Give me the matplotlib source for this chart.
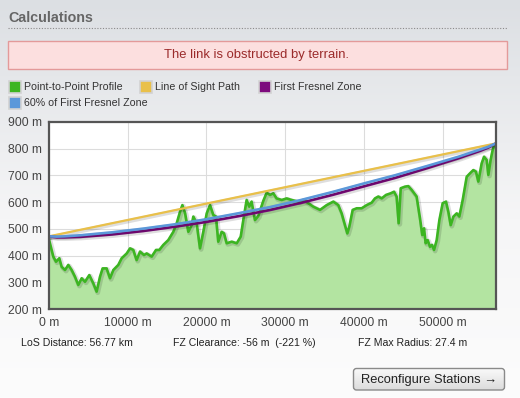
import numpy as np
import matplotlib
matplotlib.use("Agg")
import matplotlib.pyplot as plt
import matplotlib.patheffects as pe
from matplotlib.patches import Rectangle, FancyBboxPatch
from matplotlib.lines import Line2D
from matplotlib.ticker import FuncFormatter, MultipleLocator

# ---------------- data ----------------
profile_x = [0, 550, 890, 1310, 1610, 2030, 2450, 2880, 3300, 3720, 4150, 4570, 5120, 5630,
             6050, 6480, 6810, 7320, 7750, 8170, 8800, 9230, 9870, 10290, 10710, 11130, 11560,
             12060, 12400, 13040, 13590, 14010, 14520, 15150, 15790, 16220, 16640, 16940, 17290,
             17700, 18120, 18330, 18760, 19180, 19600, 20030, 20450, 20870, 21210, 21500, 21930,
             22230, 22570, 23200, 23840, 24350, 24680, 25100, 25430, 25730, 26160, 26580, 26900,
             27220, 27640, 28070, 28490, 28910, 29550, 30180, 30820, 31660, 32300, 32930, 33570,
             34420, 35270, 36110, 36740, 37170, 37600, 37890, 38140, 38570, 39080, 39710, 40350,
             40980, 41400, 41820, 42250, 42800, 43390, 43820, 44150, 44410, 44670, 45210, 45630,
             46060, 46690, 47120, 47410, 47630, 47840, 48090, 48390, 48640, 48900, 49240, 49580,
             50000, 50420, 50720, 51020, 51360, 51780, 52110, 52540, 53050, 53470, 53890, 54230,
             54530, 54950, 55250, 55590, 55800, 56090, 56300, 56520, 56770]
profile_elev = [460, 396, 377, 390, 358, 346, 365, 346, 321, 290, 315, 302, 327, 296,
                265, 321, 352, 352, 315, 346, 365, 390, 408, 427, 421, 383, 415,
                402, 408, 396, 421, 421, 440, 458, 489, 521, 564, 589, 558,
                489, 514, 546, 521, 427, 489, 558, 589, 552, 546, 452, 489,
                483, 446, 452, 446, 471, 533, 608, 583, 602, 533, 548, 577,
                605, 635, 627, 633, 614, 608, 614, 608, 602, 608, 596, 583,
                571, 589, 602, 589, 558, 514, 483, 508, 571, 577, 577, 589,
                598, 614, 621, 614, 627, 633, 639, 621, 521, 652, 658, 660,
                646, 621, 539, 477, 502, 446, 458, 433, 440, 421, 458, 533,
                596, 602, 564, 514, 546, 558, 546, 608, 695, 708, 720, 714,
                677, 745, 770, 758, 702, 758, 789, 814, 820]

los_x = [0, 56770]
los_elev = [472, 820]

fz_x = [0, 1000, 2000, 4000, 8000, 12000, 16000, 20000, 24000, 28000, 32000, 36000,
        40000, 44000, 48000, 52000, 54770, 55770, 56770]
fz_first = [472, 468, 468, 470, 479, 492, 508, 526, 547, 570, 597, 627,
            659, 691, 727, 764, 792, 804, 820]
fz_sixty = [472, 471, 472, 476, 487, 501, 517, 536, 558, 581, 608, 638,
            670, 701, 735, 770, 797, 807, 820]

legend_labels = ["Point-to-Point Profile", "Line of Sight Path", "First Fresnel Zone",
                 "60% of First Fresnel Zone"]
stats = ["LoS Distance: 56.77 km", "FZ Clearance: -56 m  (-221 %)", "FZ Max Radius: 27.4 m"]

# ---------------- styles ----------------
GREEN = "#3cb521"
GREEN_FILL = "#b3e4a1"
YELLOW = "#e9c04a"
PURPLE = "#7d0a7d"
BLUE = "#5b98da"
FONT = ["Liberation Sans", "DejaVu Sans"]
plt.rcParams["font.family"] = FONT

W, H = 520, 398
fig = plt.figure(figsize=(W / 100, H / 100), dpi=100)

# decoration layer in pixel coordinates
deco = fig.add_axes([0, 0, 1, 1])
deco.set_xlim(0, W)
deco.set_ylim(H, 0)
deco.axis("off")

# background gradient
rows = np.linspace(0, 1, H)
top = np.array([220, 223, 227]) / 255
mid = np.array([246, 246, 247]) / 255
bot = np.array([252, 252, 252]) / 255
grad = np.zeros((H, 2, 3))
for i, t in enumerate(rows):
    if t < 0.55:
        c = top + (mid - top) * (t / 0.55)
    else:
        c = mid + (bot - mid) * ((t - 0.55) / 0.45)
    grad[i, :, :] = c
deco.imshow(grad, extent=(0, W, H, 0), aspect="auto", zorder=0)

# title
deco.text(8, 17.5, "Calculations", fontsize=10.3, fontweight="bold", color="#666666",
          ha="left", va="center", zorder=3)
deco.add_line(Line2D([8, 507], [27.5, 27.5], color="#8a8a8a", lw=0.8,
                     linestyle=(0, (1, 1.5)), zorder=3))

# error box
deco.add_patch(Rectangle((7.5, 40.5), 499, 28.5, facecolor="#fcdfdf", edgecolor="#e39a9a",
                         lw=1, zorder=2))
deco.text(257, 55, "The link is obstructed by terrain.", fontsize=9.4, color="#9b2b2b",
          ha="center", va="center", zorder=3)

# legend
leg_colors = [GREEN, YELLOW, PURPLE, BLUE]
leg_pos = [(8, 86.5), (139, 86.5), (258, 86.5), (8, 103)]
for (lx, ly), col, lab in zip(leg_pos, leg_colors, legend_labels):
    deco.add_patch(Rectangle((lx + 0.5, ly - 6), 12, 12, facecolor=col, edgecolor="#d2d2d2",
                             lw=1.2, zorder=3))
    deco.text(lx + 16, ly, lab, fontsize=7.7, color="#333333", ha="left", va="center",
              zorder=3)

# stats line
for sx, s in zip([21, 173, 358], stats):
    deco.text(sx, 343.5, s, fontsize=7.6, color="#222222", ha="left", va="center", zorder=3)

# button
btn = FancyBboxPatch((353.5, 368.5), 151, 21.5,
                     boxstyle="round,pad=0,rounding_size=3",
                     facecolor="none", edgecolor="#8a8a8a", lw=1, zorder=4)
bgrad = np.zeros((20, 2, 3))
for i in range(20):
    v = (250 - i * 1.6) / 255
    bgrad[i, :, :] = v
bim = deco.imshow(bgrad, extent=(353.5, 504.5, 390, 368.5), aspect="auto", zorder=3)
deco.add_patch(btn)
bim.set_clip_path(btn)
deco.text(429, 379.5, "Reconfigure Stations \u2192", fontsize=9.3, color="#222222",
          ha="center", va="center", zorder=5, family=FONT)

# ---------------- chart ----------------
ax = fig.add_axes([49 / W, (H - 309) / H, 447 / W, 187 / H])
ax.set_facecolor("white")
ax.set_xlim(0, 56770)
ax.set_ylim(200, 900)

ax.fill_between(profile_x, profile_elev, 200, color=GREEN_FILL, lw=0, zorder=2)


def shadow(lw):
    return [pe.SimpleLineShadow(offset=(0.8, -0.8), shadow_color="black", alpha=0.13,
                                rho=1.0, linewidth=lw + 1.5),
            pe.Normal()]


ax.plot(profile_x, profile_elev, color=GREEN, lw=1.9, zorder=3, solid_joinstyle="round",
        path_effects=shadow(1.9))
ax.plot(los_x, los_elev, color=YELLOW, lw=1.6, zorder=4, path_effects=shadow(1.6))
ax.plot(fz_x, fz_first, color=PURPLE, lw=1.9, zorder=5, path_effects=shadow(1.9))
ax.plot(fz_x, fz_sixty, color=BLUE, lw=1.9, zorder=6, path_effects=shadow(1.9))

ax.xaxis.set_major_locator(MultipleLocator(10000))
ax.yaxis.set_major_locator(MultipleLocator(100))
ax.xaxis.set_major_formatter(FuncFormatter(lambda v, p: f"{int(v)} m"))
ax.yaxis.set_major_formatter(FuncFormatter(lambda v, p: f"{int(v)} m"))
ax.grid(True, color="#dcdcdc", lw=0.8, zorder=1)
ax.set_axisbelow(True)
ax.tick_params(axis="both", length=0, labelsize=8.7, labelcolor="#444444")
ax.tick_params(axis="x", pad=6)
ax.tick_params(axis="y", pad=5)
for sp in ax.spines.values():
    sp.set_color("#555555")
    sp.set_linewidth(1.6)
    sp.set_zorder(10)

fig.savefig("out.png", dpi=100)
